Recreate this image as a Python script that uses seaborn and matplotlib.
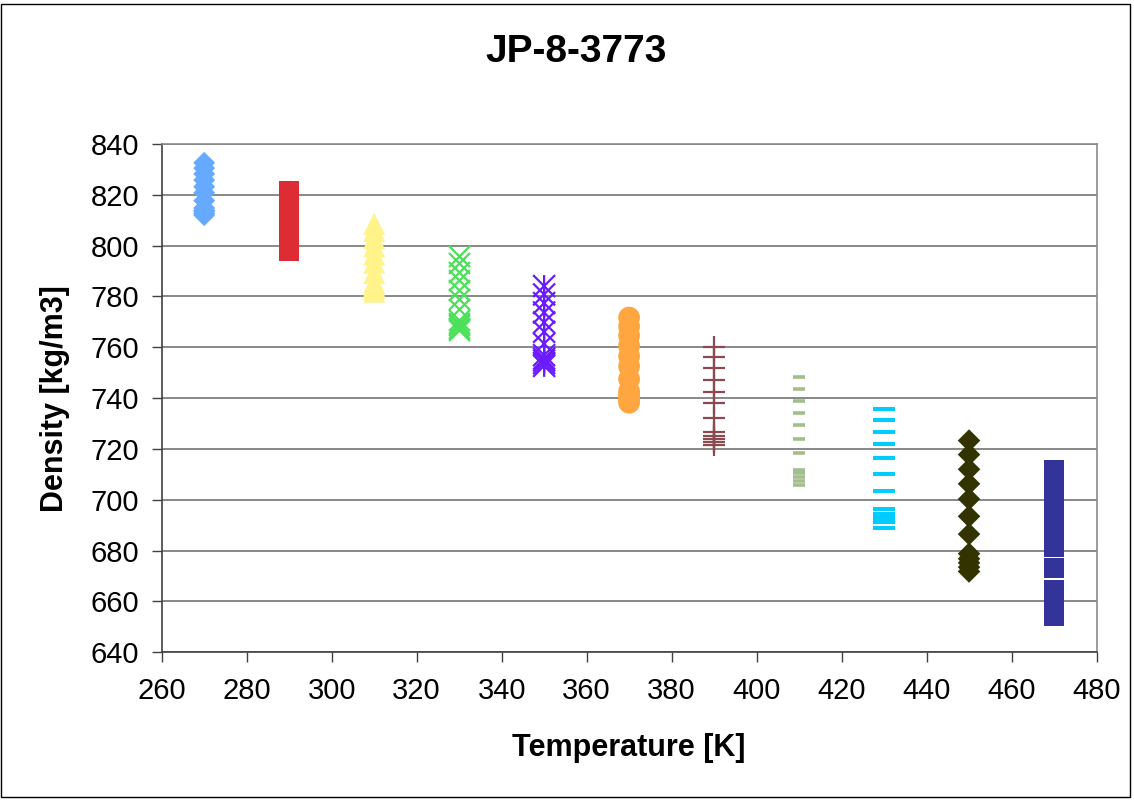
import matplotlib
matplotlib.use("Agg")
import matplotlib.pyplot as plt
from matplotlib.path import Path
from matplotlib.patches import Rectangle
import pandas as pd
import seaborn as sns

# ---------------- data ----------------
title = "JP-8-3773"
x_label = "Temperature [K]"
y_label = "Density [kg/m3]"

temperatures = [270, 290, 310, 330, 350, 370, 390, 410, 430, 450, 470]

d270 = [812.0, 812.7, 813.4, 813.9, 814.8, 817.7, 820.8, 823.2, 825.8, 828.2, 830.5, 832.6]
d290 = [798.1, 798.9, 799.7, 800.2, 801.3, 804.6, 808.1, 810.9, 813.7, 816.5, 819.1, 821.5]
d310 = [781.9, 782.8, 783.7, 784.3, 785.5, 789.3, 793.3, 796.5, 799.7, 802.9, 805.8, 808.6]
d330 = [766.7, 767.7, 768.7, 769.4, 770.7, 774.9, 779.2, 782.7, 786.3, 789.8, 793.0, 796.1]
d350 = [752.7, 753.8, 754.8, 755.6, 756.9, 761.4, 766.1, 769.8, 773.7, 777.4, 780.8, 784.1]
d370 = [738.2, 739.3, 740.5, 741.2, 742.7, 747.5, 752.5, 756.5, 760.6, 764.6, 768.2, 771.7]
d390 = [721.5, 722.8, 724.1, 725.0, 726.7, 732.2, 737.9, 742.5, 747.2, 751.8, 756.0, 760.0]
d410 = [706.0, 707.4, 708.8, 710.4, 711.9, 718.5, 724.0, 729.6, 734.2, 738.9, 743.7, 748.4]
d430 = [689.1, 691.1, 692.9, 694.6, 696.3, 703.5, 710.1, 716.4, 721.9, 726.8, 731.5, 735.9]
d450 = [671.8, 673.5, 675.2, 676.8, 678.8, 686.5, 693.5, 700.3, 706.3, 712.0, 717.8, 723.3]
d470 = [654.4, 656.8, 659.2, 661.6, 664.4, 673.0, 681.6, 688.2, 694.6, 700.5, 706.3, 711.9]

densities = [d270, d290, d310, d330, d350, d370, d390, d410, d430, d450, d470]

x_ticks = [260, 280, 300, 320, 340, 360, 380, 400, 420, 440, 460, 480]
y_ticks = [640, 660, 680, 700, 720, 740, 760, 780, 800, 820, 840]

# ---------------- styles ----------------
asterisk = Path([(-1, -1), (1, 1), (-1, 1), (1, -1), (0, -1), (0, 1)],
                [Path.MOVETO, Path.LINETO, Path.MOVETO, Path.LINETO,
                 Path.MOVETO, Path.LINETO])

styles = [
    dict(marker="D", s=125, color="#66AAFF", linewidth=0, edgecolor="none"),
    dict(marker="s", s=215, color="#DD2C34", linewidth=0, edgecolor="none"),
    dict(marker="^", s=250, color="#FFF38A", linewidth=0, edgecolor="none"),
    dict(marker="x", s=228, color="#4CE05A", linewidth=1.6),
    dict(marker=asterisk, s=250, color="#6A1BFF", facecolor="none",
         edgecolor="#6A1BFF", linewidth=1.6),
    dict(marker="o", s=245, color="#FFA640", linewidth=0, edgecolor="none"),
    dict(marker="+", s=240, color="#8B4A50", linewidth=1.6),
    dict(marker="_", s=70, color="#A3BD8E", linewidth=2.6),
    dict(marker="_", s=256, color="#00CCFF", linewidth=2.9),
    dict(marker="D", s=132, color="#333300", linewidth=0, edgecolor="none"),
    dict(marker="s", s=207, color="#333399", linewidth=0, edgecolor="none"),
]

# ---------------- figure ----------------
sns.set_theme(style="white")
plt.rcParams["font.family"] = ["Liberation Sans", "DejaVu Sans"]
plt.rcParams["text.color"] = "black"
plt.rcParams["axes.labelcolor"] = "black"
plt.rcParams["xtick.color"] = "black"
plt.rcParams["ytick.color"] = "black"

W, H = 1134, 801
fig = plt.figure(figsize=(W / 100, H / 100), dpi=100)
left, right, top, bottom = 161.7, 1096.5, 144.0, 652.3
ax = fig.add_axes([left / W, 1 - bottom / H, (right - left) / W, (bottom - top) / H])

for T, d, st in zip(temperatures, densities, styles):
    df = pd.DataFrame({"T": [T] * len(d), "rho": d})
    sns.scatterplot(data=df, x="T", y="rho", ax=ax, legend=False, **st)

ax.set_xlim(260, 480)
ax.set_ylim(640, 840)
ax.set_xticks(x_ticks)
ax.set_yticks(y_ticks)
ax.tick_params(axis="both", which="major", labelsize=21, direction="out",
               length=7, width=1.0, color="#404040", pad=9,
               labelcolor="black", bottom=True, left=True)
ax.tick_params(axis="x", pad=11)

ax.yaxis.grid(True, color="#7f7f7f", linewidth=1.3)
ax.xaxis.grid(False)
ax.set_axisbelow(True)

for side in ["left", "bottom"]:
    ax.spines[side].set_color("#404040")
    ax.spines[side].set_linewidth(1.2)
for side in ["top", "right"]:
    ax.spines[side].set_color("#8a8a8a")
    ax.spines[side].set_linewidth(1.2)

ax.set_xlabel(x_label, fontsize=22, fontweight="bold", color="black")
ax.set_ylabel(y_label, fontsize=22, fontweight="bold", color="black")
ax.xaxis.label.set_va("center")
ax.yaxis.label.set_va("center")
ax.xaxis.set_label_coords(0.5, -(748 - bottom) / (bottom - top))
ax.yaxis.set_label_coords(-(left - 55) / (right - left), 0.5)

fig.text(576 / W, 1 - 52 / H, title, ha="center", va="center",
         fontsize=28, fontweight="bold", color="black")

fig.patches.append(Rectangle((1 / W, 1 - 797 / H), 1129 / W, 793 / H,
                             transform=fig.transFigure, fill=False,
                             edgecolor="black", linewidth=1.0))

fig.savefig("out.png", dpi=100, facecolor="white")
